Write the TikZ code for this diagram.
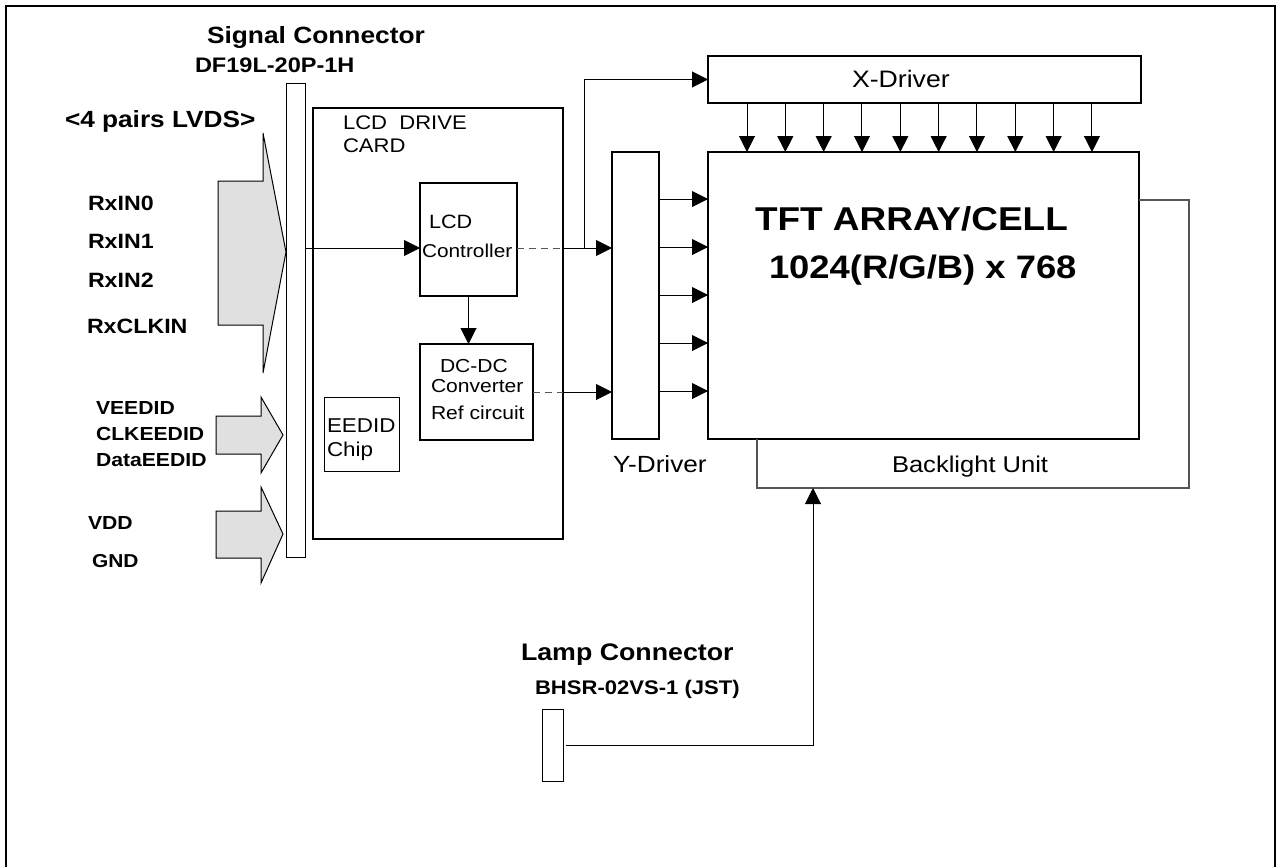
\documentclass[tikz,border=0pt]{standalone}
\usepackage{fontspec}
\setmainfont{Liberation Sans}[FakeStretch=1.12]
\usetikzlibrary{arrows.meta}
\definecolor{arrowgray}{RGB}{224,224,224}
\definecolor{linegray}{RGB}{85,85,85}
\newcommand\fs[1]{\fontsize{#1}{#1}\selectfont}
\begin{document}
\begin{tikzpicture}[x=1pt,y=-1pt,
  thickbox/.style={draw, line width=2pt, inner sep=0pt, outer sep=0pt},
  thinbox/.style={draw, line width=1pt, inner sep=0pt, outer sep=0pt},
  lbl/.style={inner sep=0pt, outer sep=0pt, anchor=base west},
  arr/.style={line width=1pt, -{Triangle[length=16pt,width=16pt]}},
  dashline/.style={line width=1pt, linegray, dash pattern=on 7pt off 5pt},
  bigarrow/.style={draw, fill=arrowgray, line width=1pt, line join=miter},
  blline/.style={draw, linegray, line width=1.3pt}]
\useasboundingbox (0,0) rectangle (1278,867);
% outer frame
\draw[line width=2.5pt] (6,880) -- (6,6) -- (1275,6) -- (1275,880);

% boxes
\node[thinbox, minimum width=19pt, minimum height=473pt] (conn) at (295.5,320.5) {};
\node[thickbox, minimum width=250pt, minimum height=431pt] (card) at (438,323.5) {};
\node[thickbox, minimum width=97pt, minimum height=113pt] (ctrl) at (468.5,239.5) {};
\node[thickbox, minimum width=113pt, minimum height=96pt] (dcdc) at (476.5,392) {};
\node[thinbox, minimum width=75pt, minimum height=74pt] (eedid) at (361.5,434) {};
\node[thickbox, minimum width=433pt, minimum height=47pt] (xdrv) at (924.5,79.5) {};
\node[thickbox, line width=2.5pt, minimum width=431pt, minimum height=287pt] (tft) at (923.5,295.5) {};
\node[thickbox, line width=2.5pt, minimum width=47pt, minimum height=287pt] (ydrv) at (635.5,295.5) {};
\node[thinbox, minimum width=21pt, minimum height=72pt] (lamp) at (552.5,745) {};

% big input arrows
\draw[bigarrow] (218,181) -- (263,181) -- (263,133) -- (286,252) -- (263,373) -- (263,325) -- (218,325) -- cycle;
\draw[bigarrow] (216,416) -- (261,416) -- (261,397) -- (283,435) -- (261,473) -- (261,454) -- (216,454) -- cycle;
\draw[bigarrow] (216,511) -- (261,511) -- (261,487) -- (283,534) -- (261,583) -- (261,558) -- (216,558) -- cycle;

% texts left
\node[lbl, font=\bfseries\fs{23.5}] (t1) at (207,44) {Signal Connector};
\node[lbl, font=\bfseries\fs{21}] (t2) at (195,73) {DF19L-20P-1H};
\node[lbl, font=\bfseries\fs{23.4}] (t3) at (65,127) {<4 pairs LVDS>};
\node[lbl, font=\bfseries\fs{20.7}] (t4) at (88,210) {RxIN0};
\node[lbl, font=\bfseries\fs{20.7}] (t5) at (88,248) {RxIN1};
\node[lbl, font=\bfseries\fs{20.7}] (t6) at (88,287) {RxIN2};
\node[lbl, font=\bfseries\fs{20.7}] (t7) at (87,333) {RxCLKIN};
\node[lbl, font=\bfseries\fs{18.9}] (t8) at (96,414) {VEEDID};
\node[lbl, font=\bfseries\fs{18.9}] (t9) at (96,440) {CLKEEDID};
\node[lbl, font=\bfseries\fs{18.9}] (t10) at (96,466) {DataEEDID};
\node[lbl, font=\bfseries\fs{18.9}] (t11) at (88,529) {VDD};
\node[lbl, font=\bfseries\fs{18.7}] (t12) at (92,567) {GND};

% card texts
\node[lbl, font=\fs{19.7}] (t13) at (343,129) {LCD\ \ DRIVE};
\node[lbl, font=\fs{19.7}] (t14) at (343,152) {CARD};
\node[lbl, font=\fs{19.3}] (t15) at (429,228) {LCD};
\node[lbl, font=\fs{18.6}] (t16) at (422,257) {Controller};
\node[lbl, font=\fs{18.8}] (t17) at (440,372) {DC-DC};
\node[lbl, font=\fs{18.8}] (t18) at (431,392) {Converter};
\node[lbl, font=\fs{18.8}] (t19) at (431,419) {Ref circuit};
\node[lbl, font=\fs{20}] (t20) at (327,432) {EEDID};
\node[lbl, font=\fs{20}] (t21) at (327,456) {Chip};

% right texts
\node[lbl, font=\fs{23.8}] (t22) at (852,88) {X-Driver};
\node[lbl, font=\fs{23.4}] (t23) at (613,472) {Y-Driver};
\node[lbl, font=\fs{22.8}] (t24) at (892,472) {Backlight Unit};
\node[lbl, font=\bfseries\fs{33}] (t25) at (755,230) {TFT ARRAY/CELL};
\node[lbl, font=\bfseries\fs{32.5}] (t26) at (769,278) {1024(R/G/B) x 768};
\node[lbl, font=\bfseries\fs{23.9}] (t27) at (521,660) {Lamp Connector};
\node[lbl, font=\bfseries\fs{19.7}] (t28) at (535,694) {BHSR-02VS-1 (JST)};

% signal path
\coordinate (s1) at (0,248);
\coordinate (s2) at (0,392);
\coordinate (br) at (584,248);
\draw[arr] (conn.east |- s1) -- (ctrl.west |- s1);
\draw[dashline] (ctrl.east |- s1) -- (card.east |- s1);
\draw[arr] (card.east |- s1) -- (ydrv.west |- s1);
\draw[arr] (br) -- (br |- xdrv.west) -- (xdrv.west);
\draw[arr] (ctrl.south) -- (ctrl.south |- dcdc.north);
\draw[dashline] (dcdc.east |- s2) -- (card.east |- s2);
\draw[arr] (card.east |- s2) -- (ydrv.west |- s2);

% X-driver to TFT
\foreach \i in {0,...,9}
  \draw[arr] ([xshift={39pt+38.33pt*\i}]xdrv.south west) -- ([xshift={39pt+38.33pt*\i}]tft.north west);
% Y-driver to TFT
\foreach \d in {47,95,143,191,239}
  \draw[arr] ([yshift=-\d pt]ydrv.north east) -- ([yshift=-\d pt]tft.north west);

% backlight unit
\coordinate (bltl) at (757,439);
\coordinate (blbr) at (1189,488);
\coordinate (bltr) at (1189,200);
\coordinate (blin) at (813,488);
\draw[blline] (bltl) |- (blbr) -- (bltr) -- (tft.east |- bltr);

% lamp
\draw[arr] ([xshift=3pt]lamp.east) -| (blin);
\end{tikzpicture}
\end{document}
